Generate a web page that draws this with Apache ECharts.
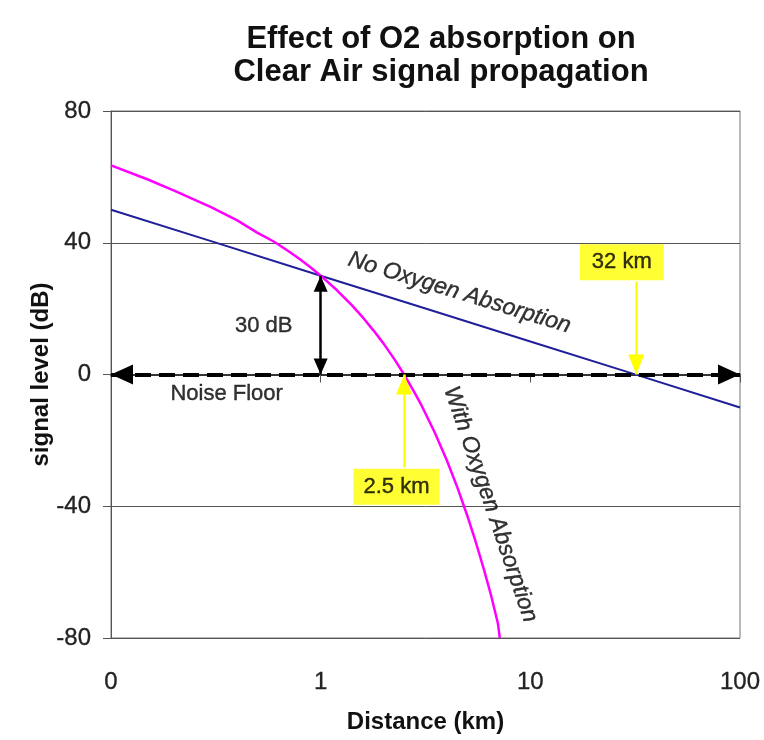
<!DOCTYPE html>
<html>
<head>
<meta charset="utf-8">
<script src="https://cdn.jsdelivr.net/npm/echarts@6/dist/echarts.min.js"></script>
<style>html,body{margin:0;padding:0;background:#fff}#c{width:764px;height:740px}</style>
</head>
<body>
<div id="c"></div>
<script>
// Distances (km) and signal levels (dB)
const noO2Dist = [0.1, 0.3, 1, 3, 10, 30, 100];
const noO2Level = [50, 40.5, 30, 20.5, 10, 0.5, -10];
const withO2Dist = [0.1, 0.15, 0.2, 0.3, 0.4, 0.5, 0.6, 0.7, 0.8, 0.9, 1.0, 1.2, 1.4, 1.6, 1.8, 2.0, 2.25, 2.5, 2.8, 3.0, 3.5, 4.0, 4.5, 5.0, 5.5, 6.0, 6.5, 7.0, 7.15];
const withO2Level = [63.5, 59.2, 55.8, 50.8, 46.8, 43.0, 40.3, 37.5, 34.9, 32.4, 30.0, 25.5, 21.2, 17.1, 13.1, 9.3, 4.6, 0.0, -5.4, -8.9, -17.6, -26.1, -34.5, -42.8, -51.0, -59.1, -67.1, -75.5, -80];
const xTickLabels = ['0', '1', '10', '100'];
const yTicks = [-80, -40, 0, 40, 80];
const noiseFloorLevel = 0;
const gapDist = 1, gapTop = 30;
const crossNear = 2.5, crossFar = 32;

const zip = (a, b) => a.map((v, i) => [v, b[i]]);
const chart = echarts.init(document.getElementById('c'), null, {renderer: 'canvas'});
const FONT = 'Liberation Sans, Arial, sans-serif';
const heavy = {textBorderColor: '#000', textBorderWidth: 0.4};

const txt = (value, text, extra) => ({
  value: value,
  label: Object.assign({show: true, formatter: text, color: '#000', fontSize: 23, fontFamily: FONT, position: 'inside'}, heavy, extra || {})
});

chart.setOption({
  animation: false,
  backgroundColor: '#fff',
  title: {
    text: 'Effect of O2 absorption on\nClear Air signal propagation',
    left: 436, top: 18, textAlign: 'center',
    textStyle: {fontFamily: FONT, fontWeight: 'bold', fontSize: 31, lineHeight: 33, color: '#111'}
  },
  grid: {left: 111, right: 24, top: 111, bottom: 102, show: true, borderColor: '#777', borderWidth: 1, backgroundColor: 'transparent'},
  xAxis: {
    type: 'log', logBase: 10, min: 0.1, max: 100,
    name: 'Distance (km)', nameLocation: 'middle', nameGap: 72, nameMoveOverlap: false,
    nameTextStyle: {fontFamily: FONT, fontWeight: 'bold', fontSize: 24, color: '#111'},
    axisLine: {show: true, lineStyle: {color: '#333', width: 2}},
    axisTick: {show: true, length: 8, lineStyle: {color: '#555'}},
    minorTick: {show: false},
    splitLine: {show: false},
    axisLabel: Object.assign({
      margin: 32, fontFamily: FONT, fontSize: 24, color: '#222',
      formatter: v => { const i = Math.round(Math.log10(v)) + 1; return xTickLabels[i] !== undefined ? xTickLabels[i] : ''; }
    }, {textBorderColor: '#222', textBorderWidth: 0.3})
  },
  yAxis: {
    type: 'value', min: yTicks[0], max: yTicks[yTicks.length - 1], interval: 40,
    name: 'signal level (dB)', nameLocation: 'middle', nameGap: 58, nameMoveOverlap: false,
    nameTextStyle: {fontFamily: FONT, fontWeight: 'bold', fontSize: 24, color: '#111'},
    axisLine: {show: true, lineStyle: {color: '#555', width: 1}},
    axisTick: {show: true, length: 8, lineStyle: {color: '#555'}},
    splitLine: {show: true, lineStyle: {color: '#555', width: 1}},
    axisLabel: {margin: 20, fontFamily: FONT, fontSize: 24, color: '#222', textBorderColor: '#222', textBorderWidth: 0.3}
  },
  series: [
    {
      name: 'No Oxygen Absorption', type: 'line', data: zip(noO2Dist, noO2Level),
      showSymbol: false, symbol: 'none', lineStyle: {color: '#1f1f99', width: 2}, z: 3, silent: true
    },
    {
      name: 'With Oxygen Absorption', type: 'line', data: zip(withO2Dist, withO2Level),
      showSymbol: false, symbol: 'none', lineStyle: {color: '#ff00ff', width: 2.5}, z: 4, silent: true
    },
    {
      name: 'annotations', type: 'line', data: [], z: 5, silent: true,
      markLine: {
        silent: true, animation: false, label: {show: false}, emphasis: {disabled: true},
        data: [
          [{coord: [0.1, noiseFloorLevel], symbol: 'triangle', symbolSize: [20, 22], symbolOffset: [0, 11], lineStyle: {color: '#000', width: 4, type: [16, 8]}},
           {coord: [100, noiseFloorLevel], symbol: 'triangle', symbolSize: [20, 22], symbolOffset: [0, 11]}],
          [{coord: [gapDist, gapTop], symbol: 'triangle', symbolSize: [14, 16], symbolOffset: [0, 8], lineStyle: {color: '#000', width: 2.5, type: 'solid'}},
           {coord: [gapDist, noiseFloorLevel], symbol: 'triangle', symbolSize: [14, 16], symbolOffset: [0, 8]}],
          [{coord: [crossNear, -28.2], symbol: 'none', lineStyle: {color: '#ffff00', width: 2.5, type: 'solid'}},
           {coord: [crossNear, noiseFloorLevel], symbol: 'triangle', symbolSize: [16, 20], symbolOffset: [0, 10]}],
          [{coord: [crossFar, 28.2], symbol: 'none', lineStyle: {color: '#ffff00', width: 2.5, type: 'solid'}},
           {coord: [crossFar, noiseFloorLevel], symbol: 'triangle', symbolSize: [16, 20], symbolOffset: [0, 10]}]
        ]
      }
    },
    {
      name: 'labels', type: 'scatter', symbolSize: 0, z: 6, silent: true,
      data: [
        txt([4.59, 24.8], 'No Oxygen Absorption', {rotate: -17, fontStyle: 'italic'}),
        txt([6.45, -39.4], 'With Oxygen Absorption', {rotate: -71, fontStyle: 'italic'}),
        txt([0.535, 14.8], '30 dB', {fontSize: 22}),
        txt([0.356, -5.8], 'Noise Floor', {fontSize: 22}),
        txt([2.30, -34.1], '2.5 km', {fontSize: 22, backgroundColor: '#ffff00', padding: [8, 10, 6, 10]}),
        txt([27.3, 34.1], '32 km', {fontSize: 22, backgroundColor: '#ffff00', padding: [8, 12, 6, 12]})
      ]
    }
  ]
});
</script>
</body>
</html>
